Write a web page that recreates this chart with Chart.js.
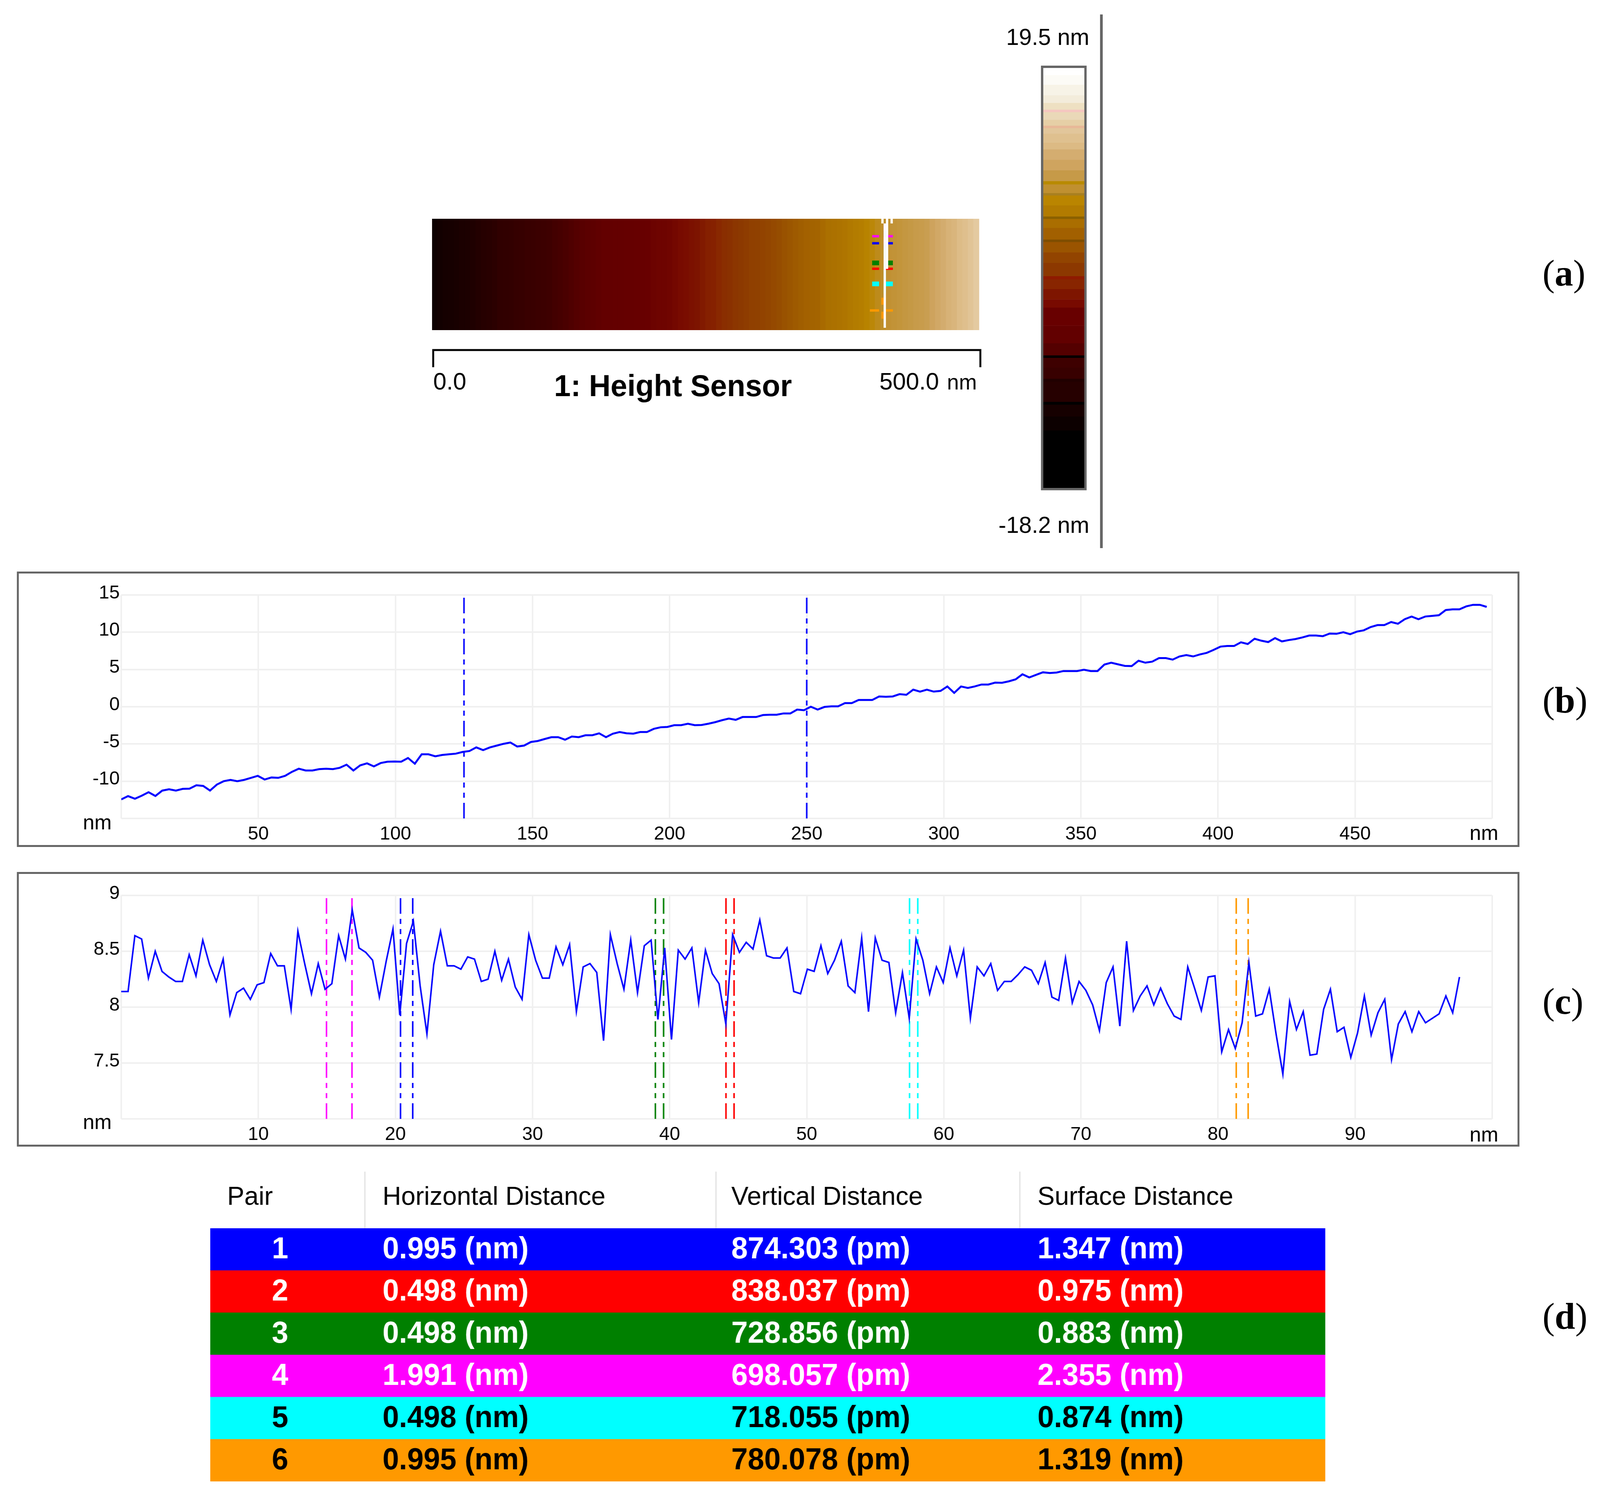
<!DOCTYPE html>
<html>
<head>
<meta charset="utf-8">
<title>Height Sensor</title>
<script src="https://cdn.jsdelivr.net/npm/chart.js@4"></script>
<style>
  html, body { margin: 0; padding: 0; background: #fff; overflow: hidden; }
  #page { position: absolute; left: 0; top: 0; width: 4170px; height: 3837px; transform-origin: 0 0; }
  canvas { position: absolute; display: block; }
  .tag { position: absolute; left: 4020px; font: 96px "Liberation Serif"; line-height: 110px; color: #000; }
  .tag b { font-weight: bold; }
</style>
</head>
<body>
<div id="page">
<canvas id="map"></canvas>
<canvas id="scale"></canvas>
<canvas id="profileB"></canvas>
<canvas id="profileC"></canvas>
<canvas id="table"></canvas>
<div class="tag" style="top:644px">(<b>a</b>)</div>
<div class="tag" style="top:1737px">(<b>b</b>)</div>
<div class="tag" style="top:2508px">(<b>c</b>)</div>
<div class="tag" style="top:3314px">(<b>d</b>)</div>
</div>
<script>
// the browser window can come out narrower than the 4170 px layout, squeeze to fit
if (window.innerWidth < 4170) {
  document.getElementById('page').style.transform = 'scaleX(' + (window.innerWidth / 4170) + ')';
}

// values
const profileBStep = 2.49; // nm between the samples kept for the long profile
const profileBValues = [
  -12.44,-12.0,-12.35,-11.95,-11.48,-11.98,-11.26,-11.08,-11.26,-11.03,
  -11.0,-10.54,-10.63,-11.26,-10.45,-10.0,-9.82,-10.0,-9.82,-9.55,
  -9.28,-9.77,-9.5,-9.55,-9.28,-8.74,-8.32,-8.56,-8.56,-8.38,
  -8.32,-8.38,-8.2,-7.78,-8.56,-7.87,-7.6,-8.01,-7.56,-7.38,
  -7.35,-7.38,-6.88,-7.65,-6.39,-6.39,-6.66,-6.48,-6.39,-6.3,
  -6.07,-5.95,-5.46,-5.83,-5.46,-5.22,-4.98,-4.8,-5.34,-5.22,
  -4.73,-4.6,-4.34,-4.09,-4.09,-4.43,-4.0,-4.09,-3.83,-3.83,
  -3.57,-4.09,-3.62,-3.4,-3.57,-3.62,-3.4,-3.4,-2.97,-2.76,
  -2.71,-2.48,-2.48,-2.28,-2.48,-2.45,-2.28,-2.07,-1.81,-1.59,
  -1.76,-1.38,-1.38,-1.38,-1.12,-1.07,-1.07,-0.9,-0.9,-0.38,
  -0.47,0,-0.38,-0.03,0.05,0.05,0.48,0.48,0.91,0.91,
  0.91,1.38,1.34,1.38,1.69,1.6,2.29,2.03,2.29,2.03,
  2.12,2.72,1.86,2.72,2.52,2.72,2.98,2.98,3.24,3.21,
  3.41,3.67,4.36,3.93,4.28,4.62,4.53,4.59,4.79,4.79,
  4.79,4.97,4.79,4.79,5.66,5.91,5.69,5.48,5.45,6.17,
  5.91,6.05,6.53,6.53,6.32,6.75,6.93,6.75,7.02,7.23,
  7.63,8.07,8.16,8.16,8.65,8.42,9.12,8.86,8.68,9.21,
  8.77,8.95,9.09,9.3,9.56,9.56,9.47,9.82,9.79,10.0,
  9.74,10.09,10.26,10.7,10.96,10.96,11.37,11.14,11.75,12.11,
  11.75,12.11,12.19,12.28,12.98,13.07,13.07,13.47,13.68,13.68,13.4
];
const profileCStep = 0.4955; // nm between samples of the short profile
const profileCValues = [
  8.14,8.14,8.64,8.61,8.26,8.50,8.32,8.27,8.23,8.23,
  8.47,8.28,8.60,8.38,8.23,8.43,7.93,8.13,8.17,8.07,
  8.20,8.22,8.48,8.37,8.37,7.98,8.68,8.39,8.12,8.39,
  8.16,8.21,8.64,8.43,8.87,8.53,8.49,8.42,8.09,8.41,
  8.70,7.93,8.57,8.77,8.19,7.76,8.38,8.68,8.37,8.37,
  8.34,8.45,8.43,8.23,8.25,8.50,8.24,8.43,8.18,8.07,
  8.65,8.42,8.26,8.26,8.54,8.38,8.56,7.96,8.36,8.39,
  8.31,7.70,8.65,8.39,8.16,8.60,8.13,8.55,8.60,7.89,
  8.53,7.71,8.51,8.43,8.53,8.04,8.51,8.30,8.21,7.85,
  8.65,8.49,8.58,8.52,8.78,8.46,8.44,8.44,8.53,8.14,
  8.12,8.34,8.32,8.55,8.30,8.42,8.59,8.19,8.13,8.62,
  7.96,8.62,8.42,8.40,7.95,8.31,7.90,8.61,8.42,8.12,
  8.36,8.22,8.53,8.28,8.51,7.90,8.36,8.28,8.39,8.15,
  8.23,8.23,8.29,8.36,8.33,8.21,8.40,8.09,8.06,8.44,
  8.04,8.23,8.15,8.02,7.79,8.22,8.36,7.83,8.59,7.97,
  8.10,8.19,8.02,8.17,8.03,7.92,7.89,8.36,8.17,7.97,
  8.27,8.28,7.60,7.80,7.63,7.86,8.40,7.92,7.94,8.16,
  7.76,7.40,8.05,7.80,7.96,7.57,7.58,7.98,8.16,7.78,
  7.82,7.55,7.77,8.10,7.75,7.95,8.07,7.53,7.85,7.96,
  7.78,7.96,7.86,7.90,7.94,8.10,7.95,8.27
];
const bXTicks = [50,100,150,200,250,300,350,400,450];
const bYTicks = [15,10,5,0,-5,-10];
const cXTicks = [10,20,30,40,50,60,70,80,90];
const cYTicks = [9,8.5,8,7.5];
const bCursors = [125,250];

// cursor pairs of the short profile, in nm along the section
const pairs = ['1','2','3','4','5','6'];
const pairColors = ['#0000ff','#ff0000','#008000','#ff00ff','#00ffff','#ff9900'];
const pairInk = ['#fff','#fff','#fff','#fff','#000','#000'];
const pairStart = [20.37,44.11,38.96,14.97,57.5,81.33];
const pairEnd = [21.26,44.7,39.56,16.83,58.1,82.2];
const horizontalDist = ['0.995 (nm)','0.498 (nm)','0.498 (nm)','1.991 (nm)','0.498 (nm)','0.995 (nm)'];
const verticalDist = ['874.303 (pm)','838.037 (pm)','728.856 (pm)','698.057 (pm)','718.055 (pm)','780.078 (pm)'];
const surfaceDist = ['1.347 (nm)','0.975 (nm)','0.883 (nm)','2.355 (nm)','0.874 (nm)','1.319 (nm)'];
const tableHeads = ['Pair','Horizontal Distance','Vertical Distance','Surface Distance'];
const rowSpan = [1,1,1,1,1,1];

// colour scale: band edges in nm (top to bottom) and the colour of each band
const scaleEdges = [19.5,18.87,18.0,17.06,16.37,15.77,15.55,14.86,14.33,14.11,13.61,12.82,12.2,11.26,10.32,9.35,9.06,8.28,8.06,7.18,6.18,5.96,5.15,4.11,3.89,2.95,2.01,0.82,0.54,-0.34,-1.28,-2.0,-3.63,-5.2,-6.29,-6.51,-7.39,-8.39,-8.64,-10.46,-10.71,-11.78,-13.03,-18.2];
const scaleColors = ['#ffffff','#fcfbf6','#f7f3e7','#f3ecdb','#eee0c2','#f5c6c0','#ead8b8','#e6cfa6','#e8b898','#e2c69b','#dfc08f','#dcba84','#d4ad70','#cfa45f','#c69a48','#b88a00','#c09030','#a88020','#ba8500','#b27b00','#8a6000','#aa6e00','#a26000','#7f4d00','#9a5400','#924400','#8c3800','#8f1a00','#882500','#7e1500','#780a00','#680000','#620000','#540000','#000000','#3e0000','#380000','#200000','#260000','#000000','#160000','#0c0000','#000000'];

// height of the map along x, one value per 5 nm column
const mapColumnWidth = 5;
const mapHeights = [
  -12.2,-11.7,-11.4,-11.2,-11.0,-10.7,-10.6,-10.3,-9.9,-9.6,
  -9.4,-9.1,-8.6,-8.5,-8.4,-8.2,-8.1,-7.8,-7.7,-7.4,
  -7.3,-7.0,-6.7,-6.5,-6.3,-6.0,-5.7,-5.4,-5.1,-4.9,
  -4.6,-4.2,-4.1,-4.0,-3.8,-3.7,-3.6,-3.4,-3.1,-2.8,
  -2.5,-2.4,-2.4,-2.2,-1.9,-1.6,-1.4,-1.1,-0.9,-0.5,
  -0.2,-0.1,0.3,0.7,0.9,1.3,1.5,1.8,2.1,2.2,
  2.4,2.6,2.8,3.0,3.3,3.6,4.0,4.4,4.7,4.8,
  4.9,5.3,5.7,5.8,6.0,6.2,6.5,6.8,7.0,7.4,
  7.8,8.2,8.5,8.8,9.0,9.2,9.5,9.7,9.9,10.0,
  10.2,10.7,11.2,11.6,12.0,12.2,12.7,13.1,13.6,14.2
];
// section drawn on the map: coloured runs along the white line
const sectionX = 413.7;
const sectionBack = [4.2,97.9];
const runStart = [4.21,10.5,16.7,23.0,27.1,35.4,39.8,46.0,58.3];
const runEnd = [10.5,16.7,23.0,27.1,35.4,39.8,46.0,54.4,66.9];
const runColors = ['#ff00ff','#0000ff','#ff00ff','#0000ff','#008000','#ff0000','#008000','#00ffff','#00ffff'];
const orangeStart = [70.9,83.4];
const orangeEnd = [77.2,89.7];
const tickPos = [21.99,44.9,39.65,15.67,58.48,82.34];
const tickWeight = [6,6,12,6,12,6];

const FONT = '"Liberation Sans"';

function place(id, left, top, width, height) {
  const c = document.getElementById(id);
  c.width = width;
  c.height = height;
  c.style.left = left + 'px';
  c.style.top = top + 'px';
  c.style.width = width + 'px';
  c.style.height = height + 'px';
  return c.getContext('2d');
}

function seg(x1, y1, x2, y2, color, width, dash) {
  return {
    type: 'line',
    data: [{x: x1, y: y1}, {x: x2, y: y2}],
    borderColor: color,
    borderWidth: width,
    borderDash: dash || [],
    pointRadius: 0,
    order: 1
  };
}

// frame around a profile panel plus its two "nm" captions
function panelPlugin(leftNmDy, rightNmDy) {
  return {
    id: 'panel',
    afterDraw(chart) {
      const ctx = chart.ctx, a = chart.chartArea;
      ctx.save();
      ctx.strokeStyle = '#666';
      ctx.lineWidth = 5;
      ctx.strokeRect(2.5, 2.5, chart.width - 5, chart.height - 5);
      ctx.fillStyle = '#000';
      ctx.font = '54px ' + FONT;
      ctx.textBaseline = 'middle';
      ctx.textAlign = 'right';
      ctx.fillText('nm', a.left - 25, a.bottom + leftNmDy);
      ctx.fillText('nm', a.right + 16, a.bottom + rightNmDy);
      ctx.restore();
    }
  };
}

const DASH = [40,13,13,13,13,13];

function profileChart(id, box, values, step, xMax, yMin, yMax, yStep, xStep, xTicks, yTicks, cursors, nmDy) {
  const ctx = place(id, box.left, box.top, box.width, box.height);
  const sets = [{
    type: 'line',
    label: 'Profile',
    data: values.map((v, i) => ({x: i * step, y: v})),
    borderColor: '#0000ff',
    borderWidth: box.lineWidth,
    borderJoinStyle: 'miter',
    pointRadius: 0,
    tension: 0,
    order: 0
  }];
  cursors.forEach(c => sets.push(seg(c.x, yMin, c.x, yMax, c.color, 4, DASH)));
  return new Chart(ctx, {
    type: 'line',
    data: {datasets: sets},
    plugins: [panelPlugin(nmDy[0], nmDy[1])],
    options: {
      responsive: false,
      animation: false,
      devicePixelRatio: 1,
      layout: {padding: {top: box.padTop, right: box.padRight, left: 0, bottom: 0}},
      plugins: {legend: {display: false}, tooltip: {enabled: false}},
      scales: {
        x: {
          type: 'linear', min: 0, max: xMax,
          afterFit: s => { s.height = box.xHeight; },
          grid: {color: '#f0f0f0', lineWidth: 4, drawTicks: false},
          border: {display: false},
          ticks: {
            stepSize: xStep, autoSkip: false, maxRotation: 0, padding: 11, color: '#000',
            font: {family: FONT, size: 49},
            callback: v => xTicks.includes(v) ? String(v) : ''
          }
        },
        y: {
          type: 'linear', min: yMin, max: yMax,
          afterFit: s => { s.width = box.yWidth; },
          grid: {color: '#f0f0f0', lineWidth: 4, drawTicks: false},
          border: {display: false},
          ticks: {
            stepSize: yStep, autoSkip: false, padding: 4, labelOffset: -5, color: '#000',
            font: {family: FONT, size: 49},
            callback: v => yTicks.includes(v) ? String(v) : ''
          }
        }
      }
    }
  });
}

profileChart('profileB',
  {left: 44, top: 1463, width: 3916, height: 705, padTop: 60, padRight: 71, yWidth: 272, xHeight: 73, lineWidth: 5},
  profileBValues, profileBStep, 500, -15, 15, 5, 50, bXTicks, bYTicks,
  bCursors.map(x => ({x: x, color: '#0000ff'})), [13, 40]);

const cCursors = [];
pairs.forEach((p, i) => {
  cCursors.push({x: pairStart[i], color: pairColors[i]});
  cCursors.push({x: pairEnd[i], color: pairColors[i]});
});
profileChart('profileC',
  {left: 44, top: 2232, width: 3916, height: 703, padTop: 60, padRight: 71, yWidth: 272, xHeight: 71, lineWidth: 4},
  profileCValues, profileCStep, 100, 7, 9, 0.5, 10, cXTicks, cYTicks, cCursors, [11, 43]);

// colour scale bar
new Chart(place('scale', 2713, 168, 119, 1087), {
  type: 'bar',
  data: {
    labels: ['scale'],
    datasets: scaleColors.map((col, i) => ({
      data: [[scaleEdges[i + 1], scaleEdges[i]]],
      backgroundColor: col,
      grouped: false,
      barPercentage: 1,
      categoryPercentage: 1
    }))
  },
  plugins: [{
    id: 'scaleFrame',
    afterDraw(chart) {
      chart.ctx.save();
      chart.ctx.strokeStyle = '#666';
      chart.ctx.lineWidth = 6;
      chart.ctx.strokeRect(3, 3, chart.width - 6, chart.height - 6);
      chart.ctx.restore();
    }
  }],
  options: {
    responsive: false,
    animation: false,
    devicePixelRatio: 1,
    layout: {padding: 6},
    plugins: {legend: {display: false}, tooltip: {enabled: false}},
    scales: {
      x: {display: false},
      y: {display: false, min: -18.2, max: 19.5}
    }
  }
});

// map colours come from the wide bands of the colour scale
function hexRgb(h) {
  return [1, 3, 5].map(k => parseInt(h.substr(k, 2), 16));
}
const cmap = [];
scaleColors.forEach((col, i) => {
  if (scaleEdges[i] - scaleEdges[i + 1] >= 0.3) {
    cmap.push({h: (scaleEdges[i] + scaleEdges[i + 1]) / 2, rgb: hexRgb(col)});
  }
});
function heightColor(h) {
  for (let i = 0; i < cmap.length - 1; i++) {
    const hi = cmap[i], lo = cmap[i + 1];
    if (h <= hi.h && h >= lo.h) {
      const t = (h - lo.h) / (hi.h - lo.h);
      const c = lo.rgb.map((v, k) => Math.round(v + (hi.rgb[k] - v) * t));
      return 'rgb(' + c.join(',') + ')';
    }
  }
  return '#000';
}

const mapSets = [{
  type: 'bar',
  data: mapHeights.map((h, i) => ({x: (i + 0.5) * mapColumnWidth, y: [0, 100]})),
  backgroundColor: mapHeights.map(heightColor),
  barThickness: 16,
  order: 5
}];
mapSets.push(seg(sectionX, sectionBack[0], sectionX, sectionBack[1], '#fff', 6));
mapSets.push(seg(415.8, 0, 415.8, 45, '#fff', 6));
mapSets.push(seg(411.6, 0, 411.6, 4.2, '#fff', 6));
mapSets.push(seg(420, 0, 420, 4.2, '#fff', 6));
runColors.forEach((col, i) => mapSets.push(seg(sectionX, runStart[i], sectionX, runEnd[i], col, 6)));
orangeStart.forEach((s, i) => mapSets.push(seg(412.7, s, 412.7, orangeEnd[i], '#ff9900', 12)));
pairs.forEach((p, i) => {
  const left = pairColors[i] === '#ff9900' ? 400.1 : 402.2;
  const right = pairColors[i] === '#ff9900' ? 412.7 : 414.8;
  mapSets.push(seg(left, tickPos[i], 408.5, tickPos[i], pairColors[i], tickWeight[i]));
  mapSets.push(seg(right, tickPos[i], 421.1, tickPos[i], pairColors[i], tickWeight[i]));
});

new Chart(place('map', 1100, 0, 1780, 1420), {
  type: 'bar',
  data: {datasets: mapSets},
  plugins: [{
    id: 'mapText',
    afterDraw(chart) {
      const ctx = chart.ctx, x = chart.scales.x;
      const x0 = x.getPixelForValue(0) + 3, x1 = x.getPixelForValue(500) + 3;
      ctx.save();
      ctx.strokeStyle = '#000';
      ctx.lineWidth = 5;
      ctx.beginPath();
      ctx.moveTo(x0, 940);
      ctx.lineTo(x0, 896);
      ctx.lineTo(x1, 896);
      ctx.lineTo(x1, 940);
      ctx.stroke();
      // the long rule at the right of the map
      ctx.strokeStyle = '#666';
      ctx.lineWidth = 7;
      ctx.beginPath();
      ctx.moveTo(1770.5, 37);
      ctx.lineTo(1770.5, 1403);
      ctx.stroke();
      ctx.fillStyle = '#000';
      ctx.textBaseline = 'middle';
      ctx.font = '62px ' + FONT;
      ctx.textAlign = 'left';
      ctx.fillText('0.0', 29, 980);
      ctx.fillText('500.0', 1192, 980);
      ctx.font = '56px ' + FONT;
      ctx.fillText('nm', 1368, 982);
      ctx.font = 'bold 78px ' + FONT;
      ctx.fillText('1: Height Sensor', 344, 992);
      ctx.font = '60px ' + FONT;
      ctx.textAlign = 'right';
      ctx.fillText('19.5 nm', 1739, 98);
      ctx.fillText('-18.2 nm', 1739, 1347);
      ctx.restore();
    }
  }],
  options: {
    responsive: false,
    animation: false,
    devicePixelRatio: 1,
    layout: {padding: {left: 26, right: 328, top: 560, bottom: 575}},
    plugins: {legend: {display: false}, tooltip: {enabled: false}},
    scales: {
      x: {type: 'linear', display: false, min: 0, max: 500, offset: false},
      y: {display: false, min: 0, max: 100, reverse: true}
    }
  }
});

// pair table
const colLeft = [0, 449, 1358, 2156];
const pairCenter = 182;
const colRule = [403, 1318, 2110];
new Chart(place('table', 548, 2990, 2906, 805), {
  type: 'bar',
  data: {
    labels: pairs,
    datasets: [{
      data: rowSpan,
      backgroundColor: pairColors,
      barPercentage: 1,
      categoryPercentage: 1
    }]
  },
  plugins: [{
    id: 'cells',
    afterDraw(chart) {
      const ctx = chart.ctx, y = chart.scales.y;
      ctx.save();
      ctx.strokeStyle = '#e0e0e0';
      ctx.lineWidth = 3;
      colRule.forEach(x => {
        ctx.beginPath();
        ctx.moveTo(x, 9);
        ctx.lineTo(x, 154);
        ctx.stroke();
      });
      ctx.textBaseline = 'middle';
      ctx.textAlign = 'left';
      ctx.fillStyle = '#000';
      ctx.font = '67px ' + FONT;
      ctx.fillText(tableHeads[0], 44, 76);
      ctx.fillText(tableHeads[1], colLeft[1], 76);
      ctx.fillText(tableHeads[2], colLeft[2], 76);
      ctx.fillText(tableHeads[3], colLeft[3], 76);
      ctx.font = 'bold 77px ' + FONT;
      pairs.forEach((p, i) => {
        const py = y.getPixelForValue(i) + 2;
        ctx.fillStyle = pairInk[i];
        ctx.textAlign = 'center';
        ctx.fillText(p, pairCenter, py);
        ctx.textAlign = 'left';
        ctx.fillText(horizontalDist[i], colLeft[1], py);
        ctx.fillText(verticalDist[i], colLeft[2], py);
        ctx.fillText(surfaceDist[i], colLeft[3], py);
      });
      ctx.restore();
    }
  }],
  options: {
    indexAxis: 'y',
    responsive: false,
    animation: false,
    devicePixelRatio: 1,
    layout: {padding: {top: 154, bottom: 3, left: 0, right: 0}},
    plugins: {legend: {display: false}, tooltip: {enabled: false}},
    scales: {
      x: {display: false, min: 0, max: 1},
      y: {display: false}
    }
  }
});
</script>
</body>
</html>
